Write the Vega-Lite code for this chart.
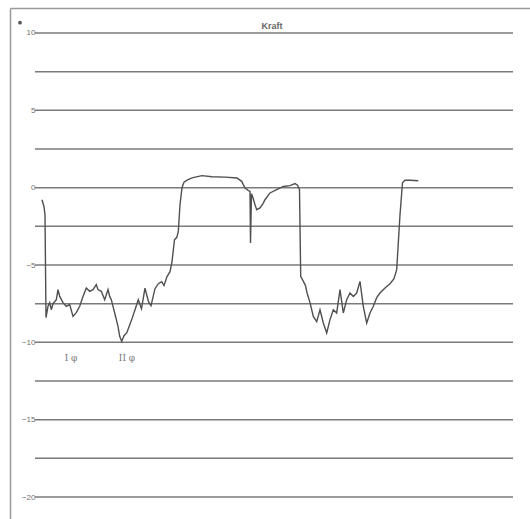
{
  "$schema": "https://vega.github.io/schema/vega-lite/v6.json",
  "width": 520,
  "height": 511,
  "autosize": "none",
  "padding": {"left": 10, "top": 8, "right": 0, "bottom": 0},
  "background": "white",
  "config": {"view": {"stroke": null}},
  "datasets": {
    "grid": [
      {"v": 10}, {"v": 7.5}, {"v": 5}, {"v": 2.5}, {"v": 0}, {"v": -2.5}, {"v": -5},
      {"v": -7.5}, {"v": -10}, {"v": -12.5}, {"v": -15}, {"v": -17.5}, {"v": -20}
    ],
    "kraft": [
      {"t": 32, "v": -0.78}, {"t": 34, "v": -1.23}, {"t": 35, "v": -1.75}, {"t": 36, "v": -8.4},
      {"t": 38, "v": -7.67}, {"t": 39.7, "v": -7.43}, {"t": 41.3, "v": -7.89}, {"t": 43, "v": -7.5},
      {"t": 46.3, "v": -7.24}, {"t": 48, "v": -6.59}, {"t": 49.7, "v": -7.03}, {"t": 53, "v": -7.43},
      {"t": 56.3, "v": -7.67}, {"t": 59.7, "v": -7.56}, {"t": 63, "v": -8.32}, {"t": 66.3, "v": -8.08},
      {"t": 69.7, "v": -7.67}, {"t": 73, "v": -7.03}, {"t": 76.3, "v": -6.48}, {"t": 79.7, "v": -6.7},
      {"t": 83, "v": -6.59}, {"t": 86.3, "v": -6.27}, {"t": 88, "v": -6.59}, {"t": 91.3, "v": -6.7},
      {"t": 94.7, "v": -7.24}, {"t": 98, "v": -6.59}, {"t": 99.7, "v": -7.03}, {"t": 101.3, "v": -7.24},
      {"t": 104.7, "v": -8.1}, {"t": 108, "v": -8.97}, {"t": 109.7, "v": -9.61}, {"t": 111.7, "v": -9.94},
      {"t": 114, "v": -9.57}, {"t": 116.7, "v": -9.39}, {"t": 121.7, "v": -8.53}, {"t": 125, "v": -7.89},
      {"t": 128.3, "v": -7.24}, {"t": 131.5, "v": -7.82}, {"t": 135, "v": -6.5}, {"t": 138.5, "v": -7.37},
      {"t": 141, "v": -7.63}, {"t": 145, "v": -6.53}, {"t": 148.3, "v": -6.21}, {"t": 151.7, "v": -6.08},
      {"t": 154, "v": -6.33}, {"t": 157, "v": -5.75}, {"t": 160, "v": -5.43}, {"t": 162, "v": -4.78},
      {"t": 164.5, "v": -3.36}, {"t": 166.7, "v": -3.23}, {"t": 168.3, "v": -2.84}, {"t": 170, "v": -1.1},
      {"t": 172, "v": 0.0}, {"t": 174, "v": 0.36}, {"t": 178, "v": 0.52}, {"t": 182, "v": 0.63},
      {"t": 192, "v": 0.78}, {"t": 202, "v": 0.71}, {"t": 215, "v": 0.68}, {"t": 227, "v": 0.63},
      {"t": 231.7, "v": 0.41}, {"t": 235, "v": -0.02}, {"t": 238.5, "v": -0.19}, {"t": 240, "v": -0.24},
      {"t": 240.5, "v": -3.57}, {"t": 241.5, "v": -0.39}, {"t": 243, "v": -0.65}, {"t": 245, "v": -1.1},
      {"t": 246.7, "v": -1.42}, {"t": 250, "v": -1.31}, {"t": 253, "v": -1.03}, {"t": 255, "v": -0.78},
      {"t": 260, "v": -0.34}, {"t": 266.7, "v": -0.13}, {"t": 273.3, "v": 0.08}, {"t": 280, "v": 0.13},
      {"t": 285, "v": 0.26}, {"t": 287.5, "v": 0.16}, {"t": 289.5, "v": -0.13}, {"t": 290.7, "v": -5.73},
      {"t": 293, "v": -6.01}, {"t": 295.5, "v": -6.33}, {"t": 297, "v": -6.79}, {"t": 300, "v": -7.43},
      {"t": 303.3, "v": -8.32}, {"t": 306.7, "v": -8.66}, {"t": 310, "v": -7.89}, {"t": 313.3, "v": -8.75},
      {"t": 316.7, "v": -9.39}, {"t": 320, "v": -8.53}, {"t": 323.3, "v": -7.89}, {"t": 326.7, "v": -8.1},
      {"t": 330, "v": -6.59}, {"t": 333.3, "v": -8.1}, {"t": 336.7, "v": -7.24}, {"t": 340, "v": -6.81},
      {"t": 343.3, "v": -7.03}, {"t": 346.7, "v": -6.81}, {"t": 350, "v": -6.06}, {"t": 353.3, "v": -7.67},
      {"t": 356.7, "v": -8.75}, {"t": 360, "v": -8.1}, {"t": 363.3, "v": -7.67}, {"t": 366.7, "v": -7.11},
      {"t": 370, "v": -6.81}, {"t": 375, "v": -6.48}, {"t": 380, "v": -6.21}, {"t": 384, "v": -5.88},
      {"t": 386.7, "v": -5.3}, {"t": 388.3, "v": -3.57}, {"t": 390, "v": -1.75}, {"t": 392.5, "v": 0.32},
      {"t": 395, "v": 0.48}, {"t": 400, "v": 0.48}, {"t": 408.3, "v": 0.45}
    ],
    "notes": [
      {"t": 262, "v": 10.45, "label": "Kraft", "kind": "title"},
      {"t": 61, "v": -11.0, "label": "I φ", "kind": "note"},
      {"t": 117, "v": -11.0, "label": "II φ", "kind": "note"},
      {"t": 10, "v": 10.67, "label": "", "kind": "dot"}
    ]
  },
  "layer": [
    {
      "data": {"name": "grid"},
      "mark": {"type": "rule", "color": "#7a7a7a", "strokeWidth": 1.5},
      "encoding": {
        "y": {
          "field": "v", "type": "quantitative",
          "scale": {"domain": [-21.42, 11.616], "nice": false, "zero": false},
          "axis": {
            "values": [10, 5, 0, -5, -10, -15, -20],
            "domain": true, "domainColor": "#9a9a9a", "domainWidth": 1.5,
            "ticks": false, "grid": false, "title": null,
            "labelPadding": -25, "labelFontSize": 8, "labelColor": "#707070",
            "labelFont": "Liberation Sans"
          }
        },
        "x": {
          "datum": 25, "type": "quantitative",
          "scale": {"domain": [0, 520], "nice": false, "zero": false},
          "axis": {
            "orient": "top", "domain": true, "domainColor": "#9a9a9a", "domainWidth": 1.5,
            "ticks": false, "labels": false, "grid": false, "title": null
          }
        },
        "x2": {"datum": 503}
      }
    },
    {
      "data": {"name": "kraft"},
      "mark": {"type": "line", "color": "#505050", "strokeWidth": 1.4},
      "encoding": {
        "x": {"field": "t", "type": "quantitative"},
        "y": {"field": "v", "type": "quantitative"}
      }
    },
    {
      "data": {"name": "notes"},
      "transform": [{"filter": "datum.kind == 'title'"}],
      "mark": {"type": "text", "font": "Liberation Sans", "fontSize": 9, "fontWeight": "bold", "color": "#666666", "baseline": "middle"},
      "encoding": {
        "x": {"field": "t", "type": "quantitative"},
        "y": {"field": "v", "type": "quantitative"},
        "text": {"field": "label"}
      }
    },
    {
      "data": {"name": "notes"},
      "transform": [{"filter": "datum.kind == 'note'"}],
      "mark": {"type": "text", "font": "DejaVu Serif", "fontSize": 9, "color": "#777777", "baseline": "middle"},
      "encoding": {
        "x": {"field": "t", "type": "quantitative"},
        "y": {"field": "v", "type": "quantitative"},
        "text": {"field": "label"}
      }
    },
    {
      "data": {"name": "notes"},
      "transform": [{"filter": "datum.kind == 'dot'"}],
      "mark": {"type": "point", "filled": true, "size": 14, "color": "#555555", "opacity": 1},
      "encoding": {
        "x": {"field": "t", "type": "quantitative"},
        "y": {"field": "v", "type": "quantitative"}
      }
    }
  ]
}
